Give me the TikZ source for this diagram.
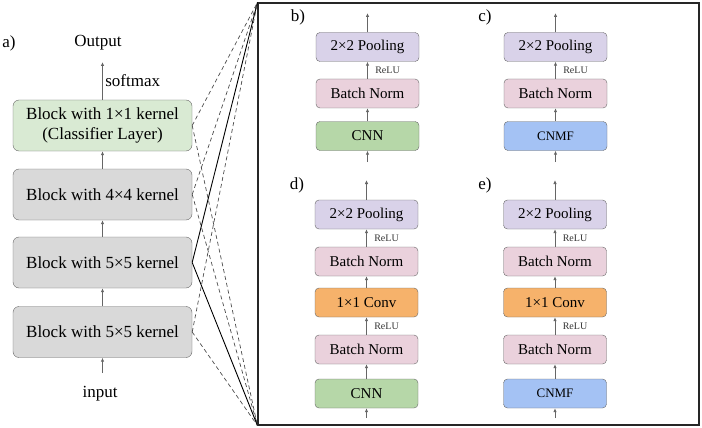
\documentclass[tikz,border=0pt]{standalone}
\usepackage{fontspec}
\setmainfont{Liberation Serif}
\usetikzlibrary{arrows.meta}
\definecolor{clsgreen}{HTML}{D9EAD3}
\definecolor{blkgray}{HTML}{D9D9D9}
\definecolor{poolpurple}{HTML}{D9D2E9}
\definecolor{bnpink}{HTML}{EAD1DC}
\definecolor{cnngreen}{HTML}{B6D7A8}
\definecolor{cnmfblue}{HTML}{A4C2F4}
\definecolor{convorange}{HTML}{F6B26B}
\definecolor{edgegray}{HTML}{666666}

\begin{document}
\begin{tikzpicture}[x=1pt,y=-1pt,>={Latex[length=4pt,width=3.5pt]},
  block/.style={draw=edgegray,rounded corners=6pt,minimum width=179pt,
    minimum height=51pt,align=center,font=\fontsize{17}{20}\selectfont},
  layer/.style={draw=edgegray,rounded corners=4pt,minimum width=103pt,
    minimum height=29pt,font=\fontsize{15}{18}\selectfont},
  flow/.style={->,edgegray,line width=0.9pt},
  relu/.style={font=\fontsize{10}{12}\selectfont,text=black!80},
  lbl/.style={font=\fontsize{17}{20}\selectfont},
  link/.style={black!70,line width=0.7pt,dash pattern=on 4pt off 3pt},
  linksolid/.style={black,line width=0.9pt}]
  \useasboundingbox (0,0) rectangle (702,428);

  % a) stack of blocks
  \node[lbl] (la) at (9,43) {a)};
  \node[lbl] (out) at (98,43) {Output};
  \coordinate (outtip) at (102.5,62);
  \node[block,fill=clsgreen] (b1) at (102.5,125.5) {Block with 1×1 kernel\\(Classifier Layer)};
  \node[block,fill=blkgray] (b2) at (102.5,194.5) {Block with 4×4 kernel};
  \node[block,fill=blkgray] (b3) at (102.5,262.5) {Block with 5×5 kernel};
  \node[block,fill=blkgray] (b4) at (102.5,332) {Block with 5×5 kernel};
  \node[lbl] (in) at (100,394) {input};
  \coordinate (intail) at (102.5,373);

  \draw[flow] (b1.north) -- (outtip) node[lbl,pos=0.5,right=-1pt,text=black] {softmax};
  \draw[flow] (b2) -- (b1);
  \draw[flow] (b3) -- (b2);
  \draw[flow] (b4) -- (b3);
  \draw[flow] (intail) -- (b4);

  % frame with the four variants
  \node[draw=black!85,line width=1.1pt,minimum width=441pt,minimum height=422pt,
    inner sep=0pt] (frame) at (478.5,214) {};

  % links from the blocks to the frame corners
  \draw[link] (b1.east) -- (frame.north west);
  \draw[link] (b1.east) -- (frame.south west);
  \draw[link] (b2.east) -- (frame.north west);
  \draw[link] (b2.east) -- (frame.south west);
  \draw[linksolid] (b3.east) -- (frame.north west);
  \draw[linksolid] (b3.east) -- (frame.south west);
  \draw[link] (b4.east) -- (frame.north west);
  \draw[link] (b4.east) -- (frame.south west);

  % b)
  \node[lbl] (lb) at (298,17) {b)};
  \coordinate (btop) at (367.5,13);
  \node[layer,fill=poolpurple] (bpool) at (367.5,47) {2×2 Pooling};
  \node[layer,fill=bnpink] (bbn) at (367.5,93.5) {Batch Norm};
  \node[layer,fill=cnngreen] (bcnn) at (367.5,136) {CNN};
  \coordinate (bbot) at (367.5,162);
  \draw[flow] (bpool) -- (btop);
  \draw[flow] (bbn) -- (bpool) node[relu,midway,right=4pt] {ReLU};
  \draw[flow] (bcnn) -- (bbn);
  \draw[flow] (bbot) -- (bcnn);

  % c)
  \node[lbl] (lc) at (485,17) {c)};
  \coordinate (ctop) at (555.5,13);
  \node[layer,fill=poolpurple] (cpool) at (555.5,47) {2×2 Pooling};
  \node[layer,fill=bnpink] (cbn) at (555.5,93.5) {Batch Norm};
  \node[layer,fill=cnmfblue,font=\fontsize{13}{16}\selectfont] (ccnmf) at (555.5,136) {CNMF};
  \coordinate (cbot) at (555.5,162);
  \draw[flow] (cpool) -- (ctop);
  \draw[flow] (cbn) -- (cpool) node[relu,midway,right=4pt] {ReLU};
  \draw[flow] (ccnmf) -- (cbn);
  \draw[flow] (cbot) -- (ccnmf);

  % d)
  \node[lbl] (ld) at (297,185) {d)};
  \coordinate (dtop) at (366.5,180);
  \node[layer,fill=poolpurple] (dpool) at (366.5,214.5) {2×2 Pooling};
  \node[layer,fill=bnpink] (dbnb) at (366.5,261.5) {Batch Norm};
  \node[layer,fill=convorange] (dconv) at (366.5,302.5) {1×1 Conv};
  \node[layer,fill=bnpink] (dbna) at (366.5,349.5) {Batch Norm};
  \node[layer,fill=cnngreen] (dcnn) at (366.5,393.5) {CNN};
  \coordinate (dbot) at (366.5,418);
  \draw[flow] (dpool) -- (dtop);
  \draw[flow] (dbnb) -- (dpool) node[relu,midway,right=4pt] {ReLU};
  \draw[flow] (dconv) -- (dbnb);
  \draw[flow] (dbna) -- (dconv) node[relu,midway,right=4pt] {ReLU};
  \draw[flow] (dcnn) -- (dbna);
  \draw[flow] (dbot) -- (dcnn);

  % e)
  \node[lbl] (le) at (485,185) {e)};
  \coordinate (etop) at (555,180);
  \node[layer,fill=poolpurple] (epool) at (555,214.5) {2×2 Pooling};
  \node[layer,fill=bnpink] (ebnb) at (555,261.5) {Batch Norm};
  \node[layer,fill=convorange] (econv) at (555,302.5) {1×1 Conv};
  \node[layer,fill=bnpink] (ebna) at (555,349.5) {Batch Norm};
  \node[layer,fill=cnmfblue,font=\fontsize{13}{16}\selectfont] (ecnmf) at (555,393.5) {CNMF};
  \coordinate (ebot) at (555,418);
  \draw[flow] (epool) -- (etop);
  \draw[flow] (ebnb) -- (epool) node[relu,midway,right=4pt] {ReLU};
  \draw[flow] (econv) -- (ebnb);
  \draw[flow] (ebna) -- (econv) node[relu,midway,right=4pt] {ReLU};
  \draw[flow] (ecnmf) -- (ebna);
  \draw[flow] (ebot) -- (ecnmf);
\end{tikzpicture}
\end{document}
